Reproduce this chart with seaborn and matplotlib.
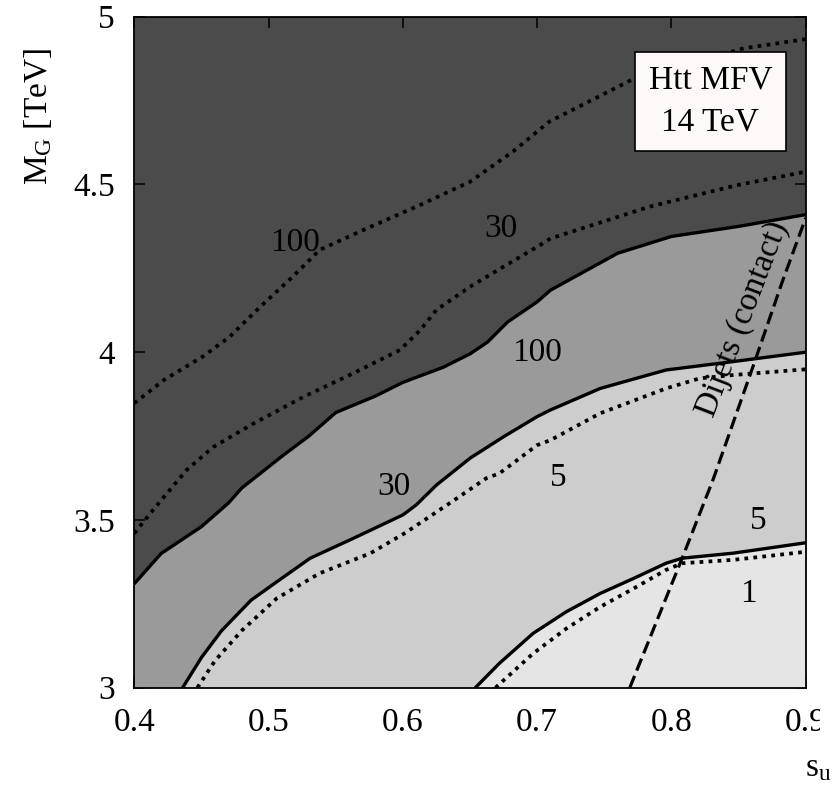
import numpy as np
import pandas as pd
import matplotlib
matplotlib.use("Agg")
import matplotlib.pyplot as plt
from matplotlib.transforms import Bbox, TransformedBbox
import seaborn as sns

# solid contours (boundaries of the shaded regions)
solid_100_x = [0.40, 0.42, 0.45, 0.47, 0.48, 0.51, 0.53, 0.55, 0.58, 0.60, 0.63, 0.65,
               0.663, 0.678, 0.70, 0.71, 0.76, 0.80, 0.825, 0.85, 0.90]
solid_100_y = [3.31, 3.40, 3.48, 3.55, 3.595, 3.69, 3.75, 3.82, 3.87, 3.91, 3.955, 3.995,
               4.03, 4.09, 4.15, 4.185, 4.295, 4.345, 4.36, 4.375, 4.41]

solid_30_x = [0.436, 0.45, 0.465, 0.487, 0.508, 0.531, 0.563, 0.60, 0.61, 0.625, 0.65,
              0.675, 0.70, 0.71, 0.747, 0.796, 0.846, 0.90]
solid_30_y = [3.00, 3.09, 3.17, 3.261, 3.321, 3.386, 3.445, 3.515, 3.545, 3.604, 3.684,
              3.748, 3.808, 3.828, 3.892, 3.947, 3.972, 4.00]

solid_5_x = [0.654, 0.672, 0.697, 0.722, 0.747, 0.772, 0.796, 0.808, 0.846, 0.90]
solid_5_y = [3.00, 3.073, 3.162, 3.227, 3.281, 3.326, 3.371, 3.386, 3.401, 3.432]

# dotted contours
dot_100_x = [0.40, 0.422, 0.451, 0.471, 0.494, 0.518, 0.538, 0.576, 0.613, 0.65, 0.682,
             0.709, 0.77, 0.854, 0.90]
dot_100_y = [3.848, 3.917, 3.987, 4.046, 4.136, 4.225, 4.305, 4.374, 4.439, 4.508, 4.598,
             4.687, 4.811, 4.906, 4.933]

dot_30_x = [0.40, 0.414, 0.439, 0.459, 0.489, 0.526, 0.563, 0.598, 0.613, 0.625, 0.65,
            0.675, 0.70, 0.71, 0.784, 0.849, 0.90]
dot_30_y = [3.46, 3.53, 3.649, 3.718, 3.788, 3.867, 3.937, 4.007, 4.066, 4.126, 4.195,
            4.255, 4.314, 4.339, 4.434, 4.498, 4.538]

dot_5_x = [0.447, 0.46, 0.48, 0.506, 0.538, 0.576, 0.602, 0.636, 0.662, 0.672, 0.70, 0.71,
           0.747, 0.796, 0.821, 0.846, 0.90]
dot_5_y = [3.00, 3.08, 3.17, 3.266, 3.341, 3.401, 3.462, 3.553, 3.624, 3.639, 3.723, 3.738,
           3.818, 3.892, 3.922, 3.932, 3.949]

dot_1_x = [0.669, 0.697, 0.722, 0.747, 0.772, 0.796, 0.808, 0.846, 0.90]
dot_1_y = [3.00, 3.102, 3.177, 3.241, 3.296, 3.351, 3.371, 3.381, 3.405]

# dijet bound
dijet_x = [0.769, 0.808, 0.831, 0.861, 0.883, 0.90]
dijet_y = [3.00, 3.386, 3.62, 3.96, 4.215, 4.40]

# contour labels
label_text = ["100", "30", "100", "30", "5", "5", "1"]
label_x = [0.520, 0.673, 0.700, 0.593, 0.716, 0.865, 0.857]
label_y = [4.325, 4.367, 3.997, 3.599, 3.627, 3.497, 3.279]

x_ticks = [0.4, 0.5, 0.6, 0.7, 0.8, 0.9]
x_ticklabels = ["0.4", "0.5", "0.6", "0.7", "0.8", "0.9"]
y_ticks = [3, 3.5, 4, 4.5, 5]
y_ticklabels = ["3", "3.5", "4", "4.5", "5"]

sns.set_style("ticks")
plt.rcParams["font.family"] = ["Liberation Serif", "DejaVu Serif"]
plt.rcParams["text.color"] = "black"
plt.rcParams["mathtext.fontset"] = "custom"
plt.rcParams["mathtext.rm"] = "Liberation Serif"
plt.rcParams["mathtext.it"] = "Liberation Serif:italic"

fig = plt.figure(figsize=(8.37, 7.94), dpi=100)
ax = fig.add_axes([134.3 / 837, 1 - 687.7 / 794, 671.4 / 837, 671.0 / 794])
ax.set_facecolor("#4b4b4b")

ax.fill_between(solid_100_x, 3.0, solid_100_y, color="#9a9a9a", lw=0, zorder=1)
ax.fill_between(solid_30_x, 3.0, solid_30_y, color="#cdcdcd", lw=0, zorder=2)
ax.fill_between(solid_5_x, 3.0, solid_5_y, color="#e5e5e5", lw=0, zorder=3)

for xs, ys in [(solid_100_x, solid_100_y), (solid_30_x, solid_30_y), (solid_5_x, solid_5_y)]:
    sns.lineplot(x=xs, y=ys, sort=False, estimator=None, color="black", lw=2.4, ax=ax, zorder=5)

for xs, ys in [(dot_100_x, dot_100_y), (dot_30_x, dot_30_y), (dot_5_x, dot_5_y), (dot_1_x, dot_1_y)]:
    sns.lineplot(x=xs, y=ys, sort=False, estimator=None, color="black", lw=2.7,
                 ax=ax, zorder=5).lines[-1].set_dashes((1, 1.4))

sns.lineplot(x=dijet_x, y=dijet_y, sort=False, estimator=None, color="black", lw=2.3,
             ax=ax, zorder=6).lines[-1].set_dashes((4, 1.8))

for t, lx, ly in zip(label_text, label_x, label_y):
    ax.text(lx, ly, t, fontsize=24, color="black", ha="center", va="center", zorder=7)

ax.text(0.853, 4.10, "Dijets (contact)", fontsize=24, color="black", rotation=69,
        ha="center", va="center", rotation_mode="anchor", zorder=7)

ax.text(0.829, 4.747, "Htt MFV\n14 TeV", fontsize=24, color="black", ha="center",
        va="center", linespacing=1.5, zorder=8,
        bbox=dict(boxstyle="square,pad=0.4", fc="#fdf9f8", ec="black", lw=1.2))

ax.set_xlim(0.4, 0.9)
ax.set_ylim(3, 5)
ax.set_xticks(x_ticks)
ax.set_xticklabels(x_ticklabels)
ax.set_yticks(y_ticks)
ax.set_yticklabels(y_ticklabels)
ax.tick_params(direction="in", length=8, width=1.1, top=True, right=True,
               labelsize=24, colors="black")
ax.tick_params(axis="x", pad=14)
ax.tick_params(axis="y", pad=14)
for s in ax.spines.values():
    s.set_linewidth(1.3)
    s.set_color("black")
    s.set_zorder(10)
ax.set_xlabel("")
ax.set_ylabel("")

fig.text(818 / 837, 1 - 768 / 794, r"s$_\mathrm{u}$", fontsize=24, color="black",
         ha="center", va="center")
fig.text(38 / 837, 1 - 116 / 794, r"M$_\mathrm{G}$ [TeV]", fontsize=24, color="black",
         rotation=90, ha="center", va="center")

# the reference is cut off at the right edge of the last tick label
clip = TransformedBbox(Bbox([[0, 0], [820 / 837, 1]]), fig.transFigure)
for lab in ax.get_xticklabels():
    lab.set_clip_box(clip)
    lab.set_clip_on(True)

fig.savefig("out.png", dpi=100)
